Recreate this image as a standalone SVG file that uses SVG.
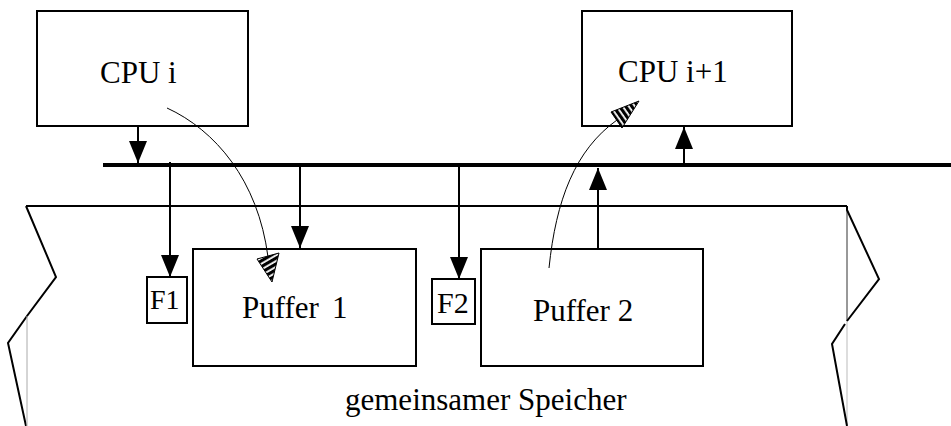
<svg xmlns="http://www.w3.org/2000/svg" width="951" height="426" viewBox="0 0 951 426">
<style>
  .box { fill: #fff; stroke: #000; stroke-width: 2; }
  .lbl { font-family: "Liberation Serif", "Times New Roman", serif; fill: #000; }
  .ln { fill: none; stroke: #000; stroke-width: 2; }
  .arr { fill: none; stroke: #000; stroke-width: 2; marker-end: url(#ah); }
  .curve { fill: none; stroke: #000; stroke-width: 1; }
  .zig { fill: none; stroke: #000; stroke-width: 2; stroke-linejoin: miter; }
</style>
<defs>
  <marker id="ah" viewBox="0 0 22 18" refX="22" refY="9" markerWidth="22" markerHeight="18" markerUnits="userSpaceOnUse" orient="auto">
    <path d="M0,0 L22,9 L0,18 z" fill="#000"/>
  </marker>
  <pattern id="h1" width="5" height="5" patternUnits="userSpaceOnUse" patternTransform="rotate(60)">
    <rect width="5" height="5" fill="#fff"/>
    <rect width="3.2" height="5" fill="#000"/>
  </pattern>
  <pattern id="h2" width="5" height="5" patternUnits="userSpaceOnUse" patternTransform="rotate(-35)">
    <rect width="5" height="5" fill="#fff"/>
    <rect width="3.2" height="5" fill="#000"/>
  </pattern>
</defs>
<rect width="951" height="426" fill="#fff"/>

<g id="memory">
  <line x1="26" y1="206" x2="847" y2="206" class="ln"/>
  <path d="M26,206 L56,277 L27,316 L8,343 L26,426" class="zig"/>
  <line x1="27" y1="316" x2="27" y2="426" stroke="#aaa" stroke-width="1"/>
  <line x1="847" y1="206" x2="847" y2="321" stroke="#333" stroke-width="1"/>
  <line x1="847" y1="321" x2="847" y2="426" stroke="#bbb" stroke-width="1"/>
  <path d="M847,206 L847,210 L879,279 L847,321" class="zig"/>
  <path d="M845,324 L832,344 L847,426" class="zig"/>
  <text x="345" y="410" class="lbl" font-size="31">gemeinsamer Speicher</text>
</g>

<g id="cpu_i">
  <rect x="37" y="11" width="211" height="115" class="box"/>
  <text x="100" y="83" class="lbl" font-size="31">CPU i</text>
</g>

<g id="cpu_i1">
  <rect x="582" y="11" width="210" height="115" class="box"/>
  <text x="618" y="82" class="lbl" font-size="31">CPU i+1</text>
</g>

<g id="puffer1">
  <rect x="193" y="249" width="223" height="117" class="box"/>
  <text x="242" y="318" class="lbl" font-size="31">Puffer<tspan x="332">1</tspan></text>
</g>

<g id="puffer2">
  <rect x="481" y="249" width="222" height="117" class="box"/>
  <text x="533" y="321" class="lbl" font-size="31">Puffer 2</text>
</g>

<g id="f1">
  <rect x="147" y="277" width="40" height="46" class="box"/>
  <text x="150" y="309" class="lbl" font-size="28">F1</text>
</g>

<g id="f2">
  <rect x="432" y="279" width="43" height="45" class="box"/>
  <text x="437" y="313" class="lbl" font-size="30">F2</text>
</g>

<g id="bus">
  <line x1="103" y1="165" x2="951" y2="165" stroke="#000" stroke-width="4"/>
</g>

<g id="connectors">
  <line x1="138" y1="126" x2="138" y2="163" class="arr"/>
  <line x1="684" y1="167" x2="684" y2="127" class="arr"/>
  <line x1="598" y1="249" x2="598" y2="168" class="arr"/>
  <line x1="170" y1="162" x2="170" y2="277" class="arr"/>
  <line x1="300" y1="167" x2="300" y2="248" class="arr"/>
  <line x1="459" y1="167" x2="459" y2="279" class="arr"/>
  <path d="M167,108 C215,130 258,180 268,257" class="curve"/>
  <polygon points="257,259 279,253 272,282" fill="url(#h1)" stroke="#000" stroke-width="1"/>
  <path d="M549,268 C556,200 575,150 617,120" class="curve"/>
  <polygon points="611,112 622,128 639,101" fill="url(#h2)" stroke="#000" stroke-width="1"/>
</g>
</svg>
